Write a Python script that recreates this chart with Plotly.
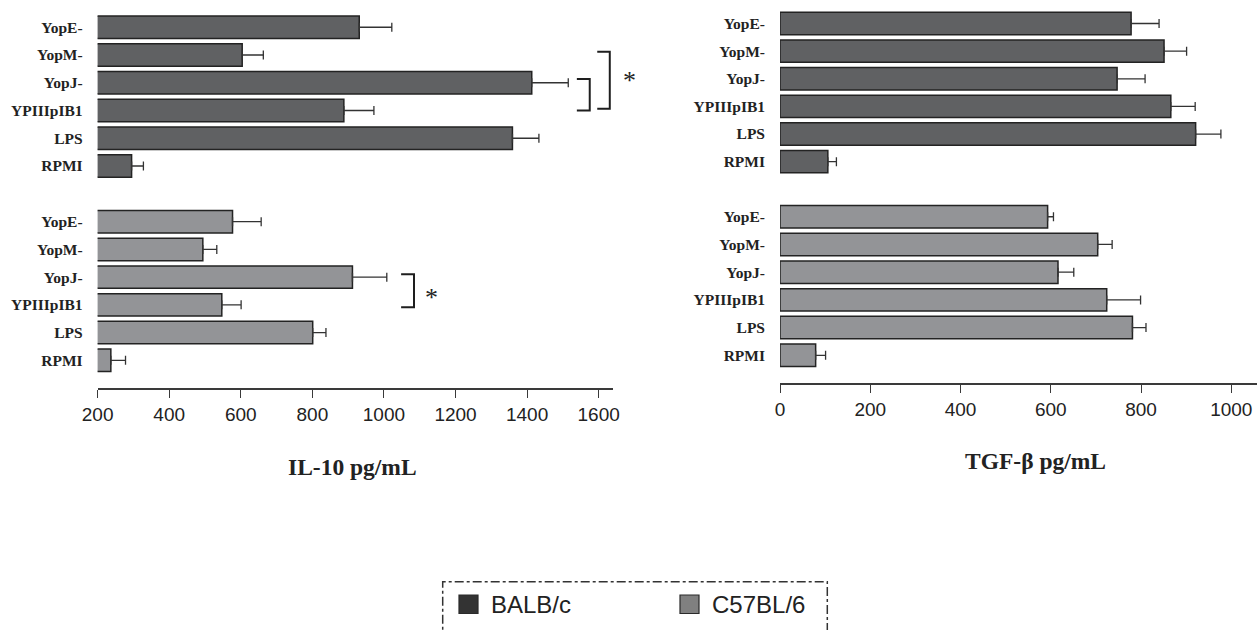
import plotly.graph_objects as go

# Stimulation groups, listed top to bottom
groups = ["YopE-", "YopM-", "YopJ-", "YPIIIpIB1", "LPS", "RPMI"]
rows = list(range(len(groups)))

# IL-10 (pg/mL), mean and SEM
il10_balb = [931, 604, 1413, 888, 1359, 295]
il10_balb_err = [91, 59, 102, 84, 74, 33]
il10_c57 = [577, 494, 912, 547, 801, 237]
il10_c57_err = [80, 39, 96, 54, 37, 41]

# TGF-beta (pg/mL), mean and SEM
tgf_balb = [778, 851, 747, 866, 921, 106]
tgf_balb_err = [62, 50, 62, 54, 56, 19]
tgf_c57 = [593, 704, 616, 724, 781, 79]
tgf_c57_err = [13, 32, 35, 75, 30, 22]

il10_ticks = [200, 400, 600, 800, 1000, 1200, 1400, 1600]
tgf_ticks = [0, 200, 400, 600, 800, 1000]

strains = ["BALB/c", "C57BL/6"]
strain_fill = ["#606163", "#939497"]
legend_fill = ["#333333", "#808080"]
outline = "#232323"

W, H = 1259, 630
fig = go.Figure()


def add_bars(values, errors, fill, xa, ya, name):
    fig.add_trace(go.Bar(
        x=values, y=rows, orientation="h", width=0.81, name=name,
        marker=dict(color=fill, line=dict(color=outline, width=1.5)),
        error_x=dict(type="data", array=errors, arrayminus=[0] * len(errors),
                     symmetric=False, color="#333333", thickness=1.3, width=4.5),
        xaxis=xa, yaxis=ya, showlegend=False, hoverinfo="x+y",
    ))


add_bars(il10_balb, il10_balb_err, strain_fill[0], "x", "y", strains[0])
add_bars(il10_c57, il10_c57_err, strain_fill[1], "x2", "y2", strains[1])
add_bars(tgf_balb, tgf_balb_err, strain_fill[0], "x3", "y3", strains[0])
add_bars(tgf_c57, tgf_c57_err, strain_fill[1], "x4", "y4", strains[1])

serif = "Times New Roman, Liberation Serif, serif"
sans = "Arial, Liberation Sans, sans-serif"


def pdom(a, b):
    return [a / W, b / W]


def vdom(top, bottom):
    return [1 - bottom / H, 1 - top / H]


cat_axis = dict(
    tickvals=rows, ticktext=groups, showline=False, showgrid=False,
    zeroline=False, ticks="", ticklabelstandoff=14, automargin=False,
    tickfont=dict(family=serif, size=15.5, color="#222222", weight="bold"),
)
val_axis = dict(
    showgrid=False, zeroline=False, showline=True, linecolor="#3a3a3a",
    linewidth=1.5, ticks="outside", ticklen=8, tickwidth=1.2, automargin=False,
    tickcolor="#3a3a3a", tickfont=dict(family=sans, size=19, color="#222222"),
)

left_x = pdom(97.6, 613)
right_x = pdom(780, 1257)

fig.update_layout(
    width=W, height=H,
    margin=dict(l=0, r=0, t=0, b=0, pad=0, autoexpand=False),
    paper_bgcolor="white", plot_bgcolor="white", showlegend=False,
    xaxis=dict(domain=left_x, range=[200, 1640], anchor="y", visible=False,
               automargin=False),
    yaxis=dict(domain=vdom(13.4, 179.9), range=[5.5, -0.5], anchor="x", **cat_axis),
    xaxis2=dict(domain=left_x, range=[200, 1640], anchor="y2",
                tickvals=il10_ticks, **val_axis),
    yaxis2=dict(domain=vdom(207.85, 388), range=[6.0, -0.5], anchor="x2", **cat_axis),
    xaxis3=dict(domain=right_x, range=[0, 1057], anchor="y3", visible=False,
                automargin=False),
    yaxis3=dict(domain=vdom(9.7, 175.5), range=[5.5, -0.5], anchor="x3", **cat_axis),
    xaxis4=dict(domain=right_x, range=[0, 1057], anchor="y4",
                tickvals=tgf_ticks, **val_axis),
    yaxis4=dict(domain=vdom(202.9, 383), range=[6.0, -0.5], anchor="x4", **cat_axis),
)

# Significance brackets
bracket_line = dict(color="#1e1e1e", width=2)


def bracket(xa, ya, x_arm, x_bar, y0, y1):
    fig.add_shape(type="path", xref=xa, yref=ya, line=bracket_line,
                  path=f"M {x_arm},{y0} L {x_bar},{y0} L {x_bar},{y1} L {x_arm},{y1}")


bracket("x", "y", 1539, 1575, 1.86, 3.0)
bracket("x", "y", 1596, 1631, 0.88, 2.94)
bracket("x2", "y2", 1048, 1084, 1.9, 3.09)

star_font = dict(family=serif, size=26, color="#222222")
fig.add_annotation(text="*", xref="x domain", yref="y", x=1.0155, y=1.93,
                   xanchor="left", yanchor="middle", showarrow=False, font=star_font)
fig.add_annotation(text="*", xref="x2", yref="y2", x=1108, y=2.73,
                   xanchor="left", yanchor="middle", showarrow=False, font=star_font)

# Axis titles
title_font = dict(family=serif, size=23.5, color="#222222", weight="bold")
fig.add_annotation(text="IL-10 pg/mL", xref="x2 domain", yref="paper",
                   x=0.4955, y=1 - 467 / H, yanchor="middle", showarrow=False,
                   font=title_font)
fig.add_annotation(text="TGF-β pg/mL", xref="x4 domain", yref="paper",
                   x=0.535, y=1 - 461 / H, yanchor="middle", showarrow=False,
                   font=title_font)

# Strain key in a dash-dot frame
fig.add_shape(type="rect", xref="paper", yref="paper",
              x0=442.7 / W, x1=827.3 / W, y0=-0.05, y1=1 - 581.7 / H,
              line=dict(color="#333333", width=1.5, dash="dashdot"))
key_x = [459, 680]
for i, name in enumerate(strains):
    fig.add_shape(type="rect", xref="paper", yref="paper",
                  x0=key_x[i] / W, x1=(key_x[i] + 19) / W,
                  y0=1 - 613.5 / H, y1=1 - 595 / H,
                  fillcolor=legend_fill[i], line=dict(color="#2a2a2a", width=1.2))
    fig.add_annotation(text=name, xref="paper", yref="paper",
                       x=(key_x[i] + 30) / W, y=1 - 604.5 / H, xanchor="left",
                       yanchor="middle", showarrow=False,
                       font=dict(family=sans, size=24, color="#222222"))

fig.write_html("out.html")
